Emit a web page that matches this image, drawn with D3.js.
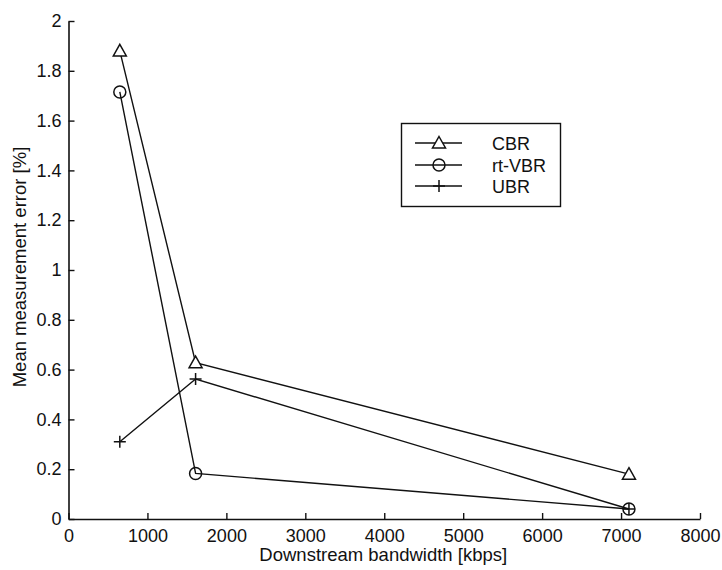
<!DOCTYPE html>
<html>
<meta charset="utf-8">
<head>
    <title>Mean measurement error</title>
    <script src="https://d3js.org/d3.v7.min.js"></script>
    <style>
    body { margin: 0; background: white; }
    text { font-family: "Liberation Sans", Arial, sans-serif; fill: #111; }
    </style>
</head>
<body>
<script>

// Data
var bandwidth = [650, 1610, 7100];
var cbr = [1.88, 0.628, 0.18];
var rtvbr = [1.715, 0.183, 0.04];
var ubr = [0.31, 0.562, 0.04];
var seriesNames = ["CBR", "rt-VBR", "UBR"];
var seriesMarkers = ["triangle", "circle", "plus"];
var xTicks = [0, 1000, 2000, 3000, 4000, 5000, 6000, 7000, 8000];
var yTicks = [0, 0.2, 0.4, 0.6, 0.8, 1, 1.2, 1.4, 1.6, 1.8, 2];

var width = 722, height = 570;
var mLeft = 68.5, mRight = 700, mTop = 21, mBottom = 519;

var svg = d3.select("body").append("svg")
    .attr("width", width)
    .attr("height", height);

var x = d3.scaleLinear().domain([0, 8000]).range([mLeft, mRight]);
var y = d3.scaleLinear().domain([0, 2]).range([mBottom, mTop]);

// Axes: ticks point inward, as in MATLAB
var xAxis = d3.axisBottom(x).tickValues(xTicks).tickSize(-6).tickPadding(10).tickSizeOuter(0)
    .tickFormat(d3.format("d"));
var yAxis = d3.axisLeft(y).tickValues(yTicks).tickSize(-6).tickPadding(7).tickSizeOuter(0)
    .tickFormat(function(d) { return String(+d.toFixed(1)); });

var gx = svg.append("g").attr("transform", "translate(0," + mBottom + ")").call(xAxis);
var gy = svg.append("g").attr("transform", "translate(" + mLeft + ",0)").call(yAxis);

[gx, gy].forEach(function(g) {
    g.attr("font-family", null).attr("font-size", null);
    g.select(".domain").attr("stroke", "#111").attr("stroke-width", 1.6);
    g.selectAll(".tick line").attr("stroke", "#111").attr("stroke-width", 1.4);
    g.selectAll(".tick text").style("font-size", "18px").attr("fill", "#111");
});

// Axis titles
svg.append("text")
    .attr("x", (mLeft + mRight) / 2 - 1)
    .attr("y", 561)
    .attr("text-anchor", "middle")
    .style("font-size", "18.5px")
    .text("Downstream bandwidth [kbps]");

svg.append("text")
    .attr("transform", "translate(26,267) rotate(-90)")
    .attr("text-anchor", "middle")
    .style("font-size", "18.5px")
    .text("Mean measurement error [%]");

// Marker drawing
function drawMarker(g, type, cx, cy) {
    if (type === "triangle") {
        g.append("path")
            .attr("d", "M" + cx + "," + (cy - 6.5) + "L" + (cx + 6.5) + "," + (cy + 5) + "L" + (cx - 6.5) + "," + (cy + 5) + "Z")
            .attr("fill", "white").attr("stroke", "#111").attr("stroke-width", 1.5);
    } else if (type === "circle") {
        g.append("circle")
            .attr("cx", cx).attr("cy", cy).attr("r", 6)
            .attr("fill", "none").attr("stroke", "#111").attr("stroke-width", 1.5);
    } else {
        g.append("path")
            .attr("d", "M" + (cx - 6) + "," + cy + "H" + (cx + 6) + "M" + cx + "," + (cy - 6) + "V" + (cy + 6))
            .attr("stroke", "#111").attr("stroke-width", 1.5);
    }
}

var line = d3.line()
    .x(function(d) { return x(d[0]); })
    .y(function(d) { return y(d[1]); });

var allSeries = [cbr, rtvbr, ubr];
var plot = svg.append("g");

allSeries.forEach(function(vals, i) {
    var pts = bandwidth.map(function(b, j) { return [b, vals[j]]; });
    plot.append("path")
        .attr("d", line(pts))
        .attr("fill", "none")
        .attr("stroke", "#111")
        .attr("stroke-width", 1.4);
});

// Markers on top of the lines
allSeries.forEach(function(vals, i) {
    bandwidth.forEach(function(b, j) {
        drawMarker(plot, seriesMarkers[i], x(b), y(vals[j]));
    });
});

// Legend
var legend = svg.append("g");
legend.append("rect")
    .attr("x", 401.5).attr("y", 123.5)
    .attr("width", 159).attr("height", 83)
    .attr("fill", "white").attr("stroke", "#111").attr("stroke-width", 1.4);

var legendRows = [143, 165, 186];
seriesNames.forEach(function(name, i) {
    var ly = legendRows[i];
    legend.append("line")
        .attr("x1", 415).attr("x2", 462)
        .attr("y1", ly).attr("y2", ly)
        .attr("stroke", "#111").attr("stroke-width", 1.4);
    drawMarker(legend, seriesMarkers[i], 439, ly);
    legend.append("text")
        .attr("x", 492).attr("y", ly + 6.5)
        .style("font-size", "18px")
        .text(name);
});

</script>
</body>
</html>
